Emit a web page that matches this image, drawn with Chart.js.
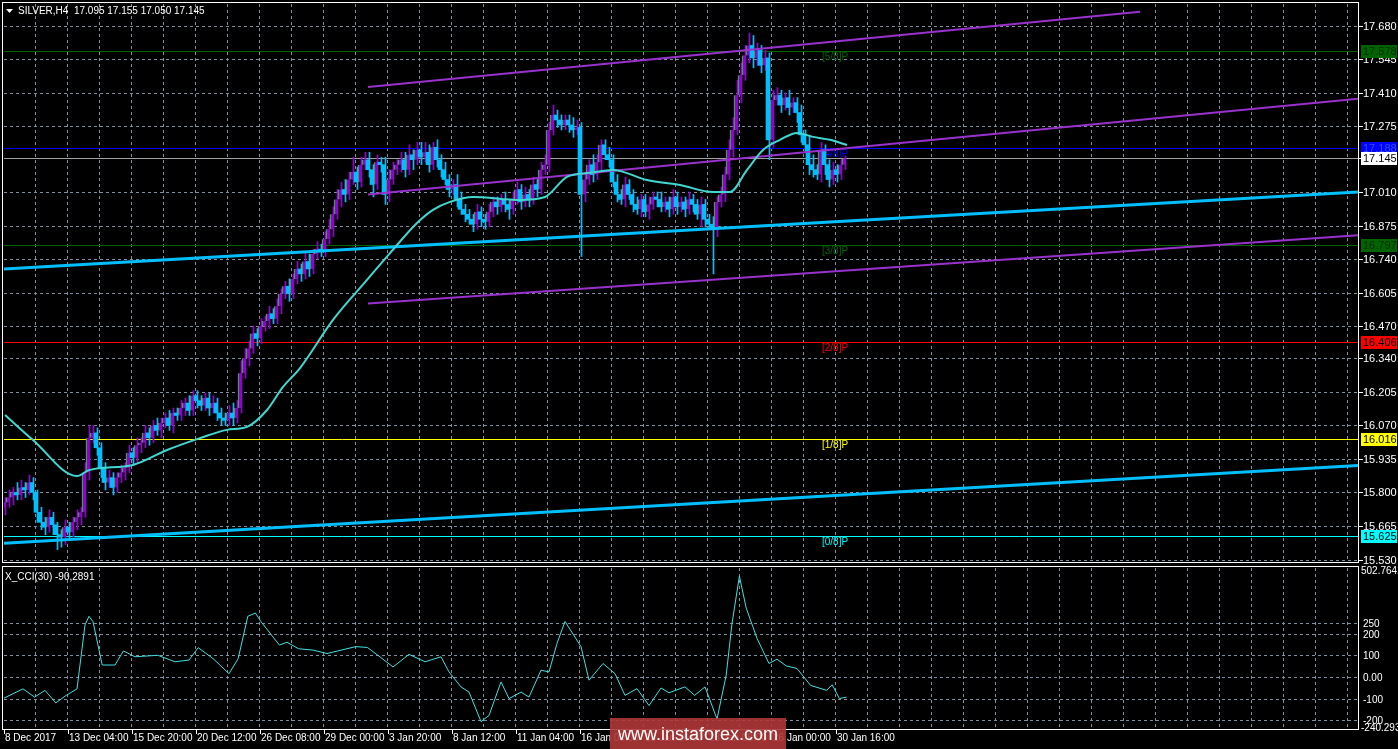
<!DOCTYPE html>
<html>
<head>
<meta charset="utf-8">
<script src="https://cdn.jsdelivr.net/npm/chart.js@4"></script>
<style>
body{margin:0;background:#000;width:1398px;height:749px;overflow:hidden;position:relative}
canvas{position:absolute;left:0}
#wm{position:absolute;left:610px;top:718px;width:176px;height:31px;background:rgba(175,55,55,0.9);color:#fff;font:18px "Liberation Sans",sans-serif;text-align:center;line-height:33px}
</style>
</head>
<body>
<canvas id="priceChart" style="top:0" width="1398" height="566"></canvas>
<canvas id="cciChart" style="top:566px" width="1398" height="183"></canvas>
<div id="wm">www.instaforex.com</div>
<script>
// H4 closes, bar 0 = 8 Dec 2017
let closes=[
15.76,15.78,15.80,15.79,15.82,15.81,15.84,15.80,15.72,15.68,
15.66,15.70,15.67,15.63,15.62,15.66,15.64,15.68,15.70,15.72,
15.88,16.02,16.04,15.98,15.90,15.84,15.86,15.82,15.86,15.88,
15.90,15.96,15.94,15.99,16.00,16.04,16.02,16.07,16.05,16.08,
16.10,16.07,16.12,16.11,16.14,16.16,16.13,16.19,16.17,16.15,
16.18,16.14,16.16,16.12,16.10,16.09,16.12,16.10,16.14,16.28,
16.34,16.38,16.44,16.42,16.47,16.49,16.52,16.50,16.55,16.60,
16.63,16.60,16.66,16.70,16.68,16.73,16.70,16.76,16.78,16.77,
16.82,16.86,16.92,16.98,17.02,17.00,17.06,17.09,17.05,17.12,
17.14,17.10,17.04,17.13,17.12,17.00,17.06,17.10,17.12,17.14,
17.10,17.16,17.14,17.18,17.15,17.17,17.12,17.19,17.14,17.10,
17.06,17.02,17.04,16.98,16.94,16.92,16.90,16.88,16.93,16.90,
16.89,16.93,16.97,16.95,16.98,16.96,16.94,16.98,17.02,16.97,
17.00,16.98,17.04,17.02,17.10,17.12,17.26,17.32,17.30,17.28,
17.30,17.28,17.26,17.27,17.00,17.06,17.12,17.08,17.13,17.20,
17.16,17.14,17.05,17.00,16.98,17.04,17.00,16.96,16.94,16.98,
16.93,16.96,16.99,16.98,16.95,16.97,16.94,16.99,16.95,16.97,
16.94,16.98,16.96,16.92,16.96,16.90,16.88,16.86,16.97,17.00,
17.08,17.18,17.26,17.40,17.48,17.56,17.60,17.55,17.58,17.52,
17.55,17.22,17.38,17.40,17.36,17.39,17.35,17.37,17.33,17.24,
17.20,17.12,17.10,17.08,17.18,17.12,17.06,17.10,17.08,17.12,17.145];
let firstOpen=15.74;
// upper / lower wick length in cents
let wickUp=[
2,3,2,4,3,2,3,2,1,2, 2,3,2,1,2,3,2,2,3,2, 4,5,3,2,2,2,3,2,2,3, 2,3,2,3,2,3,2,2,3,2,
2,3,2,2,3,2,3,2,2,2, 2,2,3,2,2,2,3,4,3,5, 4,3,3,2,3,2,3,2,3,2, 2,3,2,3,2,4,3,2,3,2,
3,4,3,4,3,4,3,6,2,3, 3,3,2,3,2,3,4,3,2,3, 3,4,2,3,3,4,3,2,3,2, 3,2,2,4,3,2,2,2,3,2,
2,3,2,2,2,3,2,3,3,2, 3,2,3,2,3,4,3,4,2,2, 2,2,3,3,2,3,2,4,3,2, 2,3,2,3,2,3,2,2,3,2,
2,3,2,2,3,2,2,3,2,2, 2,3,2,2,3,2,2,3,2,3, 3,4,5,6,5,4,5,4,3,2, 3,2,4,3,2,2,3,2,2,3,
2,3,4,2,3,2,2,3,2,2,1];
let wickDown=[
3,2,3,2,2,3,2,3,4,3, 3,2,4,6,4,3,3,2,3,3, 2,3,2,3,4,3,2,3,2,2, 3,2,3,2,3,2,3,2,2,3,
2,2,3,2,2,3,2,2,3,2, 2,3,2,3,3,2,2,3,2,2, 2,3,2,3,2,2,3,2,2,3, 2,3,2,2,3,2,3,2,2,2,
2,2,3,2,3,3,2,2,3,2, 2,3,5,2,3,4,3,2,2,3, 3,2,4,2,3,2,3,2,3,3, 2,3,2,3,2,3,2,3,2,3,
3,2,2,3,2,3,4,2,2,3, 2,3,2,3,2,2,3,2,3,2, 2,3,3,2,25,3,2,3,2,3, 2,3,2,3,2,3,2,3,2,3,
2,3,2,3,2,2,3,2,3,2, 3,2,3,2,5,3,2,18,3,2, 3,2,3,2,3,2,3,4,3,3, 2,8,3,2,3,2,3,2,4,3,
3,4,3,2,3,4,3,2,3,2,2];
// moving average read at bar positions
let maBars=[0,7,18,21,32,40.5,48.75,55.5,60.5,65.5,69.5,73.75,82,90.5,96.25,103,107,111.25,117,128.75,135,140.5,146.25,152,160.5,168.75,177,181.25,185.5,189.5,193.75,198,202,206.25,210.5];
let maVals=[16.112,16.011,15.866,15.890,15.911,15.971,16.019,16.052,16.064,16.132,16.225,16.301,16.495,16.656,16.764,16.885,16.938,16.970,16.990,16.978,16.990,17.071,17.087,17.099,17.058,17.038,17.010,17.010,17.099,17.179,17.220,17.248,17.232,17.220,17.199];
// trend lines [x1,y1,x2,y2] in bar / price units
let blueLow=[-0.25,15.595,338.25,15.909];
let blueHigh=[-0.25,16.700,338.25,17.010];
let chanTop=[90.75,17.433,283.75,17.736];
let chanMid=[90.75,17.0,338.25,17.385];
let chanLow=[90.75,16.561,338.25,16.836];
// murrey levels
let levelVals=[17.578,17.188,17.145,16.797,16.406,16.016,15.625];
let levelColors=['#006400','#0000ff','#a0a0a0','#006400','#ff0000','#ffff00','#00ffff'];
let levelText=['[5/8]P','[4/8]P','','[3/8]P','[2/8]P','[1/8]P','[0/8]P'];
let levelBoxText=['#002800','#3050ff','#000','#002800','#000','#000','#000'];
let levelBoxBg=['#006400','#0000ff','#fff','#006400','#ff0000','#ffff00','#00ffff'];
let priceTicks=[17.680,17.545,17.410,17.275,17.145,17.010,16.875,16.740,16.605,16.470,16.340,16.205,16.070,15.935,15.800,15.665,15.530];
// CCI
let cciBars=[-0.5,4.5,7.4,10,12.7,15.3,18,20,21,22,24.3,27.5,29.6,32.5,38.2,42.5,46,48.3,52,56,58.3,60.7,62.6,64,68.6,70.5,73.4,77,80.5,85,87.7,90.6,93.5,97,101,105,109,111,114,116,119,121,124,126,129,131,134,136,138,140,144,146,149.5,152.5,155,158,161,164,166,170,172.4,175,178,180.3,181.7,183.6,185.3,188,191,193,195.3,198,201.4,205.4,206.8,208.6,210.4];
let cciVals=[-100,-55,-93,-62,-120,-85,-55,240,280,255,55,55,120,93,100,70,78,135,85,15,85,280,295,255,147,160,130,124,108,128,140,136,96,46,104,70,93,23,-46,-70,-206,-178,-23,-100,-70,-93,31,23,155,256,140,-15,62,15,-85,-54,-132,-51,-73,-46,-85,-46,-194,8,240,465,318,178,62,82,51,39,-39,-62,-36,-100,-93];
let cciTicks=[250,200,100,0,-100,-200];
let timeLabels=['8 Dec 2017','13 Dec 04:00','15 Dec 20:00','20 Dec 12:00','26 Dec 08:00','29 Dec 00:00','3 Jan 20:00','8 Jan 12:00','11 Jan 04:00','16 Jan 00:00','18 Jan 16:00','23 Jan 08:00','26 Jan 00:00','30 Jan 16:00'];

const GRID='#8090a0';
const FONT='11px "Liberation Sans"';
const SMALL='10px "Liberation Sans"';
let wicks=[],bodies=[];
closes.forEach((c,i)=>{
  let o=i===0?firstOpen:closes[i-1];
  let hi=Math.max(o,c)+wickUp[i]/100, lo=Math.min(o,c)-wickDown[i]/100;
  wicks.push({x:i,y:[lo,hi],up:c>=o});
  bodies.push({x:i,y:[o,c],up:c>=o});
});
function seg(a){return [{x:a[0],y:a[1]},{x:a[2],y:a[3]}];}
function lineDs(a,color,w){return {type:'line',data:seg(a),borderColor:color,borderWidth:w,pointRadius:0,order:0};}
const upCol='#9400d3', dnCol='#00bfff';

function drawVGrid(chart){
  const {ctx,chartArea:a,scales:{x}}=chart;
  ctx.save();ctx.strokeStyle=GRID;ctx.setLineDash([3,3]);ctx.lineWidth=1;
  for(let i=7.5;i<340;i+=8){let px=Math.round(x.getPixelForValue(i))+0.5;if(px>a.right)break;ctx.beginPath();ctx.moveTo(px,a.top);ctx.lineTo(px,a.bottom);ctx.stroke();}
  ctx.restore();
}
function frame(chart){
  const {ctx,chartArea:a}=chart;
  ctx.save();ctx.strokeStyle='#fff';ctx.lineWidth=1;ctx.strokeRect(a.left-1.5,a.top-1.5,a.right-a.left+2,a.bottom-a.top+2);ctx.restore();
}

const pricePlugin={id:'pricePlugin',
  beforeDatasetsDraw(chart){
    const {ctx,chartArea:a,scales:{y}}=chart;
    drawVGrid(chart);
    ctx.save();ctx.strokeStyle=GRID;ctx.setLineDash([3,3]);
    priceTicks.forEach(t=>{let py=Math.round(y.getPixelForValue(t))+0.5;ctx.beginPath();ctx.moveTo(a.left,py);ctx.lineTo(a.right,py);ctx.stroke();});
    ctx.setLineDash([]);
    levelVals.forEach((v,k)=>{let py=Math.round(y.getPixelForValue(v))+0.5;ctx.strokeStyle=levelColors[k];ctx.beginPath();ctx.moveTo(a.left,py);ctx.lineTo(a.right,py);ctx.stroke();
      if(levelText[k]){ctx.fillStyle=levelColors[k];ctx.font=SMALL;ctx.textBaseline='top';ctx.fillText(levelText[k],822,py+1);}});
    ctx.restore();
  },
  afterDraw(chart){
    const {ctx,chartArea:a,scales:{y}}=chart;
    frame(chart);
    ctx.save();ctx.font=FONT;ctx.textBaseline='middle';
    priceTicks.forEach(t=>{let py=Math.round(y.getPixelForValue(t));ctx.fillStyle='#fff';ctx.fillRect(a.right+1,py,4,1);ctx.fillText(t.toFixed(3),1363,py+1);});
    levelVals.forEach((v,k)=>{let py=Math.round(y.getPixelForValue(v));ctx.fillStyle=levelBoxBg[k];ctx.fillRect(1361,py-6,36,13);ctx.fillStyle=levelBoxText[k];ctx.fillText(v.toFixed(3),1363,py+1);});
    ctx.fillStyle='#fff';ctx.beginPath();ctx.moveTo(6,9);ctx.lineTo(13,9);ctx.lineTo(9.5,13);ctx.fill();
    ctx.font=SMALL;ctx.fillText('SILVER,H4  17.095 17.155 17.050 17.145',18,11);
    ctx.restore();
  }};

new Chart(document.getElementById('priceChart'),{
  type:'bar',
  data:{datasets:[
    {data:wicks,barThickness:1,backgroundColor:c=>c.raw&&c.raw.up?upCol:dnCol,order:2},
    {data:bodies,barThickness:3,minBarLength:1,backgroundColor:c=>c.raw&&c.raw.up?upCol:dnCol,
     borderColor:'#00ff00',borderWidth:c=>c.raw&&c.raw.up?{left:1,right:0,top:0,bottom:0}:0,borderSkipped:false,order:1},
    {type:'line',data:maBars.map((b,i)=>({x:b,y:maVals[i]})),borderColor:'#40d8d0',borderWidth:2,pointRadius:0,cubicInterpolationMode:'monotone',order:0},
    lineDs(blueLow,'#00bfff',3),lineDs(blueHigh,'#00bfff',3),
    lineDs(chanTop,'#9932cc',2),lineDs(chanMid,'#9932cc',2),lineDs(chanLow,'#9932cc',2)
  ]},
  options:{responsive:false,animation:false,events:[],
    layout:{padding:{left:4,right:40,top:4,bottom:4}},
    plugins:{legend:{display:false},tooltip:{enabled:false}},
    scales:{x:{type:'linear',min:-0.25,max:338.25,display:false,offset:false},
            y:{min:15.520,max:17.767,display:false}}},
  plugins:[pricePlugin]
});

const cciPlugin={id:'cciPlugin',
  beforeDatasetsDraw(chart){
    const {ctx,chartArea:a,scales:{y}}=chart;
    drawVGrid(chart);
    ctx.save();ctx.strokeStyle=GRID;ctx.setLineDash([3,3]);
    cciTicks.forEach(t=>{let py=Math.round(y.getPixelForValue(t))+0.5;ctx.beginPath();ctx.moveTo(a.left,py);ctx.lineTo(a.right,py);ctx.stroke();});
    ctx.restore();
  },
  afterDraw(chart){
    const {ctx,chartArea:a,scales:{x,y}}=chart;
    frame(chart);
    ctx.save();ctx.font=SMALL;ctx.fillStyle='#fff';ctx.textBaseline='middle';
    cciTicks.forEach(t=>{let py=Math.round(y.getPixelForValue(t));ctx.fillText(t===0?'0.00':String(t),1363,py+1);});
    ctx.fillText('502.7642',1361,a.top+3);
    ctx.fillText('-240.293',1361,a.bottom-1);
    ctx.fillText('X_CCI(30) -90,2891',5,a.top+9);
    ctx.textBaseline='top';
    timeLabels.forEach((l,k)=>{let px=x.getPixelForValue(16*k)-2;ctx.fillRect(px+1,a.bottom+1,1,4);ctx.fillText(l,px+2,a.bottom+4);});
    ctx.restore();
  }};

new Chart(document.getElementById('cciChart'),{
  type:'line',
  data:{datasets:[{data:cciBars.map((b,i)=>({x:b,y:cciVals[i]})),borderColor:'#40e0e0',borderWidth:1,pointRadius:0}]},
  options:{responsive:false,animation:false,events:[],
    layout:{padding:{left:4,right:40,top:2,bottom:20}},
    plugins:{legend:{display:false},tooltip:{enabled:false}},
    scales:{x:{type:'linear',min:-0.25,max:338.25,display:false},
            y:{min:-240.293,max:502.7642,display:false}}},
  plugins:[cciPlugin]
});
</script>
</body>
</html>
